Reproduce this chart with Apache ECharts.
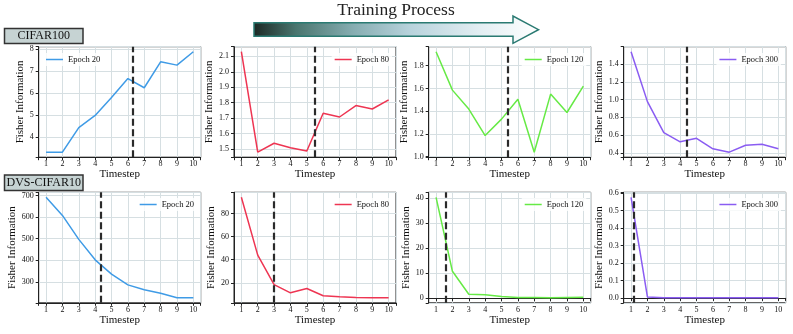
<!DOCTYPE html>
<html>
<head>
<meta charset="utf-8">
<script src="https://cdn.jsdelivr.net/npm/echarts@6/dist/echarts.min.js"></script>
<style>html,body{margin:0;padding:0;background:#fff}#main{width:793px;height:334px}</style>
</head>
<body>
<div id="main"></div>
<script>
var timesteps = [1, 2, 3, 4, 5, 6, 7, 8, 9, 10];
var epochs = ['Epoch 20', 'Epoch 80', 'Epoch 120', 'Epoch 300'];
var colors = ['#3f9be6', '#ee3552', '#66ea45', '#8a5cf2'];

// CIFAR100 (top row)
var cifarE20 = [3.30, 3.30, 4.42, 4.97, 5.79, 6.65, 6.23, 7.41, 7.26, 7.87];
var cifarE80 = [2.13, 1.479, 1.537, 1.508, 1.487, 1.731, 1.707, 1.781, 1.759, 1.818];
var cifarE120 = [1.923, 1.585, 1.418, 1.185, 1.33, 1.505, 1.039, 1.55, 1.388, 1.62];
var cifarE300 = [1.542, 0.978, 0.627, 0.524, 0.564, 0.445, 0.407, 0.485, 0.497, 0.445];
var cifarCut = [6.28, 5.51, 5.40, 4.42];
var cifarStep = [1, 0.1, 0.2, 0.2];

// DVS-CIFAR10 (bottom row)
var dvsE20 = [692, 608, 497, 402, 336, 286, 263, 247, 226, 226];
var dvsE80 = [94, 44, 18.5, 11.4, 15.1, 8.9, 8.0, 7.4, 7.1, 7.1];
var dvsE120 = [40.4, 10.8, 1.6, 1.4, 0.7, 0.3, 0.3, 0.2, 0.3, 0.4];
var dvsE300 = [0.575, 0.006, 0.001, 0.001, 0.001, 0.001, 0.001, 0.001, 0.001, 0.001];
var dvsCut = [4.35, 3.0, 1.59, 1.14];
var dvsStep = [100, 20, 10, 0.1];

var font = 'Liberation Serif';
var lefts = [38.7, 234, 428.7, 623.7];
var tops = [46.7, 192.3];
var W = 162, H = 110.5;
var nameGaps = [[11, 15, 14.5, 15], [17, 14, 13, 16]];
var legendRight = [[null, 401, 206.7, 12], [596, 401, 206.7, 12]];
var legendTop = [53, 198];

var rows = [
  { vals: [cifarE20, cifarE80, cifarE120, cifarE300], cut: cifarCut, step: cifarStep },
  { vals: [dvsE20, dvsE80, dvsE120, dvsE300], cut: dvsCut, step: dvsStep }
];

function fmt(step) {
  var dec = step < 1 ? 1 : 0;
  return function (v) {
    var k = v / step;
    if (Math.abs(k - Math.round(k)) > 1e-6) return '';
    return v.toFixed(dec);
  };
}

var grids = [], xAxes = [], yAxes = [], series = [], legends = [];
var gridLine = { show: true, lineStyle: { color: '#d6dfe2', width: 1 } };
var tick = { show: true, length: 3, lineStyle: { color: '#222' } };
var nameStyle = { fontFamily: font, fontSize: 11, color: '#111' };

rows.forEach(function (row, r) {
  row.vals.forEach(function (vals, c) {
    var i = r * 4 + c;
    var lo = Math.min.apply(null, vals), hi = Math.max.apply(null, vals);
    var pad = (hi - lo) * 0.05;
    var step = row.step[c];
    grids.push({
      left: lefts[c], top: tops[r], width: W, height: H,
      show: true, borderColor: '#222', borderWidth: 1,
      containLabel: false, outerBoundsMode: 'none'
    });
    xAxes.push({
      type: 'value', gridIndex: i, min: 0.55, max: 10.45,
      minInterval: 1, maxInterval: 1,
      name: 'Timestep', nameLocation: 'middle', nameGap: 11, nameTextStyle: nameStyle,
      axisLine: { show: true, lineStyle: { color: '#222' } },
      axisTick: tick,
      axisLabel: { fontFamily: font, fontSize: 8, color: '#111', margin: 3, formatter: fmt(1) },
      splitLine: gridLine
    });
    yAxes.push({
      type: 'value', gridIndex: i, min: lo - pad, max: hi + pad,
      minInterval: step, maxInterval: step,
      name: 'Fisher Information', nameLocation: 'middle', nameGap: nameGaps[r][c],
      nameTextStyle: nameStyle,
      axisLine: { show: true, lineStyle: { color: '#222' } },
      axisTick: tick,
      axisLabel: { fontFamily: font, fontSize: 8, color: '#111', margin: 5, formatter: fmt(step) },
      splitLine: gridLine
    });
    series.push({
      type: 'line', name: epochs[c], xAxisIndex: i, yAxisIndex: i,
      data: timesteps.map(function (t, j) { return [t, vals[j]]; }),
      symbol: 'none', color: colors[c],
      lineStyle: { width: 1.5, color: colors[c] },
      markLine: {
        silent: true, symbol: ['none', 'none'], label: { show: false },
        lineStyle: { color: '#2a2a2a', type: [7, 3.5], width: 2.2 },
        data: [{ xAxis: row.cut[c] }]
      }
    });
    var lg = {
      data: [epochs[c]], top: legendTop[r], orient: 'horizontal',
      icon: 'rect', itemWidth: 17, itemHeight: 1.5, padding: [2, 3],
      backgroundColor: 'rgba(255,255,255,0.8)',
      textStyle: { fontFamily: font, fontSize: 8.5, color: '#111' },
      selectedMode: false
    };
    if (legendRight[r][c] == null) lg.left = 43; else lg.right = legendRight[r][c];
    legends.push(lg);
  });
});

var chart = echarts.init(document.getElementById('main'));
chart.setOption({
  animation: false,
  backgroundColor: '#fff',
  grid: grids,
  xAxis: xAxes,
  yAxis: yAxes,
  legend: legends,
  series: series,
  graphic: [
    {
      type: 'text', x: 396, y: 10,
      style: { text: 'Training Process', font: '17.5px "Liberation Serif"', fill: '#222', align: 'center', verticalAlign: 'middle' }
    },
    {
      type: 'polygon',
      shape: { points: [[254, 22.7], [513, 22.7], [513, 16], [538.5, 29.7], [513, 43.3], [513, 36.3], [254, 36.3]] },
      style: {
        fill: new echarts.graphic.LinearGradient(0, 0, 1, 0, [
          { offset: 0, color: '#1c2824' },
          { offset: 0.15, color: '#4a766f' },
          { offset: 0.35, color: '#86adb1' },
          { offset: 0.55, color: '#b8d3dc' },
          { offset: 0.8, color: '#e4eff3' },
          { offset: 1, color: '#ffffff' }
        ]),
        stroke: '#2a7a72', lineWidth: 1.5
      }
    },
    { type: 'rect', shape: { x: 4.5, y: 28.5, width: 78.5, height: 15 }, style: { fill: '#c6d3d3', stroke: '#333', lineWidth: 1.5 } },
    { type: 'text', x: 43.7, y: 36.3, style: { text: 'CIFAR100', font: '12px "Liberation Serif"', fill: '#111', align: 'center', verticalAlign: 'middle' } },
    { type: 'rect', shape: { x: 4.5, y: 175, width: 78.5, height: 15.5 }, style: { fill: '#c6d3d3', stroke: '#333', lineWidth: 1.5 } },
    { type: 'text', x: 43.7, y: 183, style: { text: 'DVS-CIFAR10', font: '12px "Liberation Serif"', fill: '#111', align: 'center', verticalAlign: 'middle' } }
  ]
});
</script>
</body>
</html>
